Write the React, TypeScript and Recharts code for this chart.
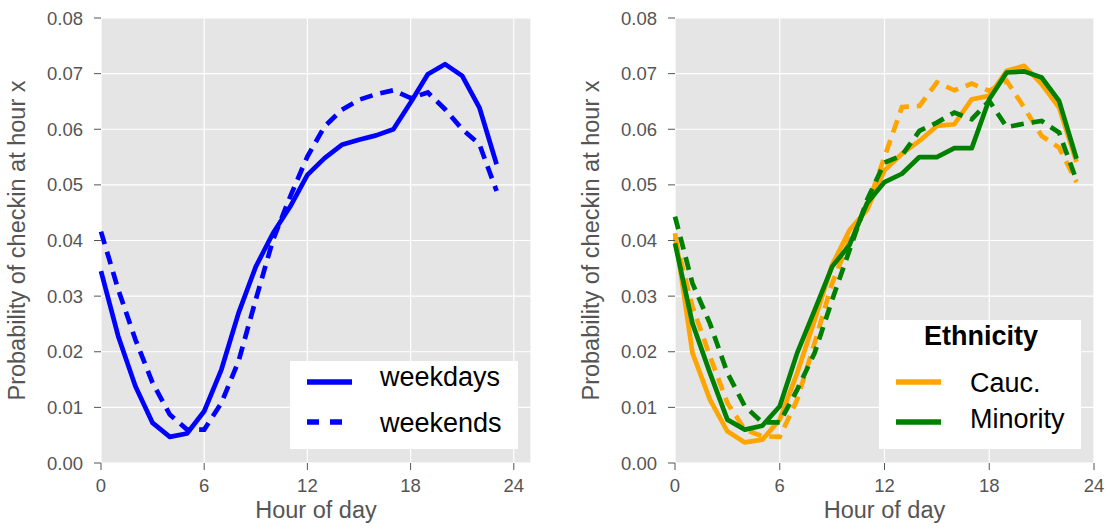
import React from "react";
import { LineChart, Line, XAxis, YAxis, CartesianGrid, Legend } from "recharts";

const HOURS = [0, 1, 2, 3, 4, 5, 6, 7, 8, 9, 10, 11, 12, 13, 14, 15, 16, 17, 18, 19, 20, 21, 22, 23];

const WEEKDAYS = [
  0.0345, 0.0228, 0.0138, 0.0072, 0.0047, 0.0053, 0.0093, 0.0168, 0.027, 0.0353, 0.0413, 0.0461,
  0.0518, 0.0548, 0.0572, 0.0581, 0.0589, 0.06, 0.0648, 0.0699, 0.0717, 0.0696, 0.0639, 0.0537,
];
const WEEKENDS = [
  0.0416, 0.0312, 0.0222, 0.0144, 0.0087, 0.006, 0.006, 0.0108, 0.0183, 0.0294, 0.0401, 0.0479,
  0.0551, 0.0605, 0.0635, 0.0653, 0.0663, 0.067, 0.0656, 0.0666, 0.0636, 0.06, 0.0573, 0.0489,
];

const CAUC_WEEKDAYS = [
  0.0413, 0.0198, 0.0114, 0.0057, 0.0037, 0.0042, 0.0078, 0.0162, 0.0257, 0.0356, 0.0419, 0.0455,
  0.0526, 0.0556, 0.0579, 0.0606, 0.0609, 0.0654, 0.066, 0.0705, 0.0714, 0.0681, 0.0639, 0.0541,
];
const CAUC_WEEKENDS = [
  0.0405, 0.0281, 0.0192, 0.0108, 0.006, 0.0048, 0.0047, 0.0114, 0.0216, 0.0323, 0.0401, 0.0461,
  0.055, 0.064, 0.0642, 0.0684, 0.067, 0.0682, 0.0669, 0.0687, 0.0639, 0.0588, 0.0567, 0.0505,
];
const MINORITY_WEEKDAYS = [
  0.0395, 0.0251, 0.0162, 0.0078, 0.006, 0.0067, 0.0102, 0.0198, 0.0275, 0.0353, 0.0392, 0.0467,
  0.0505, 0.052, 0.055, 0.055, 0.0566, 0.0566, 0.0654, 0.0702, 0.0704, 0.0693, 0.0651, 0.0547,
];
const MINORITY_WEEKENDS = [
  0.0443, 0.0323, 0.0251, 0.0162, 0.0102, 0.0073, 0.0073, 0.0132, 0.0198, 0.0293, 0.0383, 0.0473,
  0.054, 0.0553, 0.0597, 0.0612, 0.063, 0.0618, 0.0651, 0.0604, 0.061, 0.0615, 0.0594, 0.0508,
];

const X_TICKS = [0, 6, 12, 18, 24];
const Y_TICKS = [0, 0.01, 0.02, 0.03, 0.04, 0.05, 0.06, 0.07, 0.08];

const dayRows = HOURS.map((h, i) => ({ hour: h, weekdays: WEEKDAYS[i], weekends: WEEKENDS[i] }));
const ethRows = HOURS.map((h, i) => ({
  hour: h,
  caucWd: CAUC_WEEKDAYS[i],
  caucWe: CAUC_WEEKENDS[i],
  minWd: MINORITY_WEEKDAYS[i],
  minWe: MINORITY_WEEKENDS[i],
}));

const FONT = "'Liberation Sans', Arial, sans-serif";
const BLUE = "#0000ff";
const ORANGE = "#ffa500";
const GREEN = "#008000";
const LW = 4.7;
const DASH = "13 8";

const tickStyle = { fontSize: 18.5, fill: "#555555", fontFamily: FONT };
const labelStyle = { fontSize: 23.5, fill: "#555555", fontFamily: FONT, textAnchor: "middle" as const };

type Entry = { label: string; color: string; dash?: string; lineY: number; textY: number };

// white legend panel drawn in svg so each row can be placed exactly
function LegendBox({ width, height, title, entries, textX }: {
  width: number;
  height: number;
  title?: string;
  entries: Entry[];
  textX: number;
}) {
  return (
    <svg width={width} height={height} style={{ display: "block" }}>
      <rect x={0} y={0} width={width} height={height} fill="#ffffff" />
      {title && (
        <text x={width / 2 + 1} y={25} textAnchor="middle" fontFamily={FONT} fontWeight="bold" fontSize={27} fill="#000">
          {title}
        </text>
      )}
      {entries.map((e) => (
        <g key={e.label}>
          <line x1={17} x2={62} y1={e.lineY} y2={e.lineY} stroke={e.color} strokeWidth={5.5} strokeDasharray={e.dash} />
          <text x={textX} y={e.textY} fontFamily={FONT} fontSize={27} fill="#000">
            {e.label}
          </text>
        </g>
      ))}
    </svg>
  );
}

export default function App() {
  const common = {
    tickLine: { stroke: "#555555" },
    axisLine: false,
    tickSize: 7,
  };
  return (
    <div style={{ position: "absolute", left: 0, top: 0, width: 1110, height: 529, background: "#fff" }}>
      <div style={{ position: "absolute", left: 0, top: 0 }}>
        <LineChart width={560} height={529} data={dayRows} margin={{ top: 18, right: 29, bottom: 0, left: 0 }}>
          <CartesianGrid fill="#e5e5e5" stroke="#ffffff" strokeWidth={1.2} />
          <XAxis
            dataKey="hour"
            type="number"
            domain={[0, 25]}
            ticks={X_TICKS}
            height={66}
            tickMargin={9}
            tick={tickStyle}
            {...common}
            label={{ value: "Hour of day", position: "insideBottom", offset: 11, style: labelStyle }}
          />
          <YAxis
            type="number"
            domain={[0, 0.08]}
            ticks={Y_TICKS}
            width={101}
            tickMargin={11}
            tick={tickStyle}
            tickFormatter={(v: number) => v.toFixed(2)}
            {...common}
            label={{ value: "Probability of checkin at hour x", angle: -90, position: "insideLeft", offset: 17, style: labelStyle }}
          />
          <Line dataKey="weekdays" stroke={BLUE} strokeWidth={LW} dot={false} strokeLinejoin="round" isAnimationActive={false} />
          <Line dataKey="weekends" stroke={BLUE} strokeWidth={LW} strokeDasharray={DASH} dot={false} isAnimationActive={false} />
          <Legend
            layout="horizontal"
            verticalAlign="middle"
            align="center"
            wrapperStyle={{ left: 290, top: 361, width: 228, height: 88 }}
            content={() => (
              <LegendBox
                width={228}
                height={88}
                entries={[
                  { label: "weekdays", color: BLUE, lineY: 21, textY: 25 },
                  { label: "weekends", color: BLUE, dash: "12 11", lineY: 61, textY: 71 },
                ]}
                textX={90}
              />
            )}
          />
        </LineChart>
      </div>
      <div style={{ position: "absolute", left: 560, top: 0 }}>
        <LineChart width={550} height={529} data={ethRows} margin={{ top: 18, right: 16, bottom: 0, left: 0 }}>
          <CartesianGrid fill="#e5e5e5" stroke="#ffffff" strokeWidth={1.2} />
          <XAxis
            dataKey="hour"
            type="number"
            domain={[0, 24]}
            ticks={X_TICKS}
            height={66}
            tickMargin={9}
            tick={tickStyle}
            {...common}
            label={{ value: "Hour of day", position: "insideBottom", offset: 11, style: labelStyle }}
          />
          <YAxis
            type="number"
            domain={[0, 0.08]}
            ticks={Y_TICKS}
            width={115}
            tickMargin={11}
            tick={tickStyle}
            tickFormatter={(v: number) => v.toFixed(2)}
            {...common}
            label={{ value: "Probability of checkin at hour x", angle: -90, position: "insideLeft", offset: 31, style: labelStyle }}
          />
          <Line dataKey="caucWd" stroke={ORANGE} strokeWidth={LW} dot={false} strokeLinejoin="round" isAnimationActive={false} />
          <Line dataKey="caucWe" stroke={ORANGE} strokeWidth={LW} strokeDasharray={DASH} dot={false} isAnimationActive={false} />
          <Line dataKey="minWd" stroke={GREEN} strokeWidth={LW} dot={false} strokeLinejoin="round" isAnimationActive={false} />
          <Line dataKey="minWe" stroke={GREEN} strokeWidth={LW} strokeDasharray={DASH} dot={false} isAnimationActive={false} />
          <Legend
            layout="horizontal"
            verticalAlign="middle"
            align="center"
            wrapperStyle={{ left: 319, top: 320, width: 202, height: 129 }}
            content={() => (
              <LegendBox
                width={202}
                height={129}
                title="Ethnicity"
                entries={[
                  { label: "Cauc.", color: ORANGE, lineY: 62, textY: 72 },
                  { label: "Minority", color: GREEN, lineY: 102, textY: 108 },
                ]}
                textX={91}
              />
            )}
          />
        </LineChart>
      </div>
    </div>
  );
}
